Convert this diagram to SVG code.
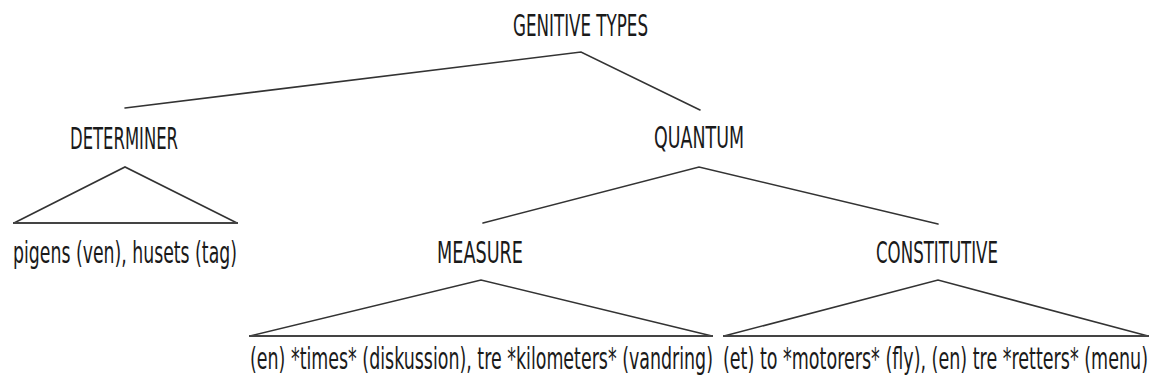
<svg xmlns="http://www.w3.org/2000/svg" width="1155" height="385" viewBox="0 0 1155 385">
<style>
text{font-family:"DejaVu Sans",sans-serif;font-size:30px;fill:#1a1a1a}
.e{stroke:#333;stroke-width:1.6;fill:none;stroke-linecap:round}
.b{stroke:#444;stroke-width:2.2;fill:none}
</style>
<rect width="1155" height="385" fill="#fff"/>
<g id="connectors">
<polyline class="e" points="125,108 581,52 700,110"/>
<polyline class="e" points="483,223 699,167 938,224"/>
<polyline class="e" points="14,223 125,167 237,223"/>
<line class="b" x1="13" y1="223" x2="238" y2="223"/>
<polyline class="e" points="250,336 481,280 712,336"/>
<line class="b" x1="249" y1="336" x2="713" y2="336"/>
<polyline class="e" points="724,336 938,280 1148,336"/>
<line class="b" x1="723" y1="336" x2="1149" y2="336"/>
</g>
<g id="root"><text transform="translate(513,36) scale(0.5,1)" textLength="270" lengthAdjust="spacingAndGlyphs">GENITIVE TYPES</text></g>
<g id="determiner"><text transform="translate(70,149) scale(0.5,1)" textLength="216" lengthAdjust="spacingAndGlyphs">DETERMINER</text></g>
<g id="quantum"><text transform="translate(654,148) scale(0.5,1)" textLength="180" lengthAdjust="spacingAndGlyphs">QUANTUM</text></g>
<g id="det-leaf"><text transform="translate(13,263) scale(0.5,1)" textLength="448" lengthAdjust="spacingAndGlyphs">pigens (ven), husets (tag)</text></g>
<g id="measure"><text transform="translate(437,263) scale(0.5,1)" textLength="172" lengthAdjust="spacingAndGlyphs">MEASURE</text></g>
<g id="constitutive"><text transform="translate(876,263) scale(0.5,1)" textLength="244" lengthAdjust="spacingAndGlyphs">CONSTITUTIVE</text></g>
<g id="measure-leaf"><text transform="translate(250,369) scale(0.5,1)" textLength="926" lengthAdjust="spacingAndGlyphs">(en) *times* (diskussion), tre *kilometers* (vandring)</text></g>
<g id="constitutive-leaf"><text transform="translate(723,369) scale(0.5,1)" textLength="850" lengthAdjust="spacingAndGlyphs">(et) to *motorers* (fly), (en) tre *retters* (menu)</text></g>
</svg>
